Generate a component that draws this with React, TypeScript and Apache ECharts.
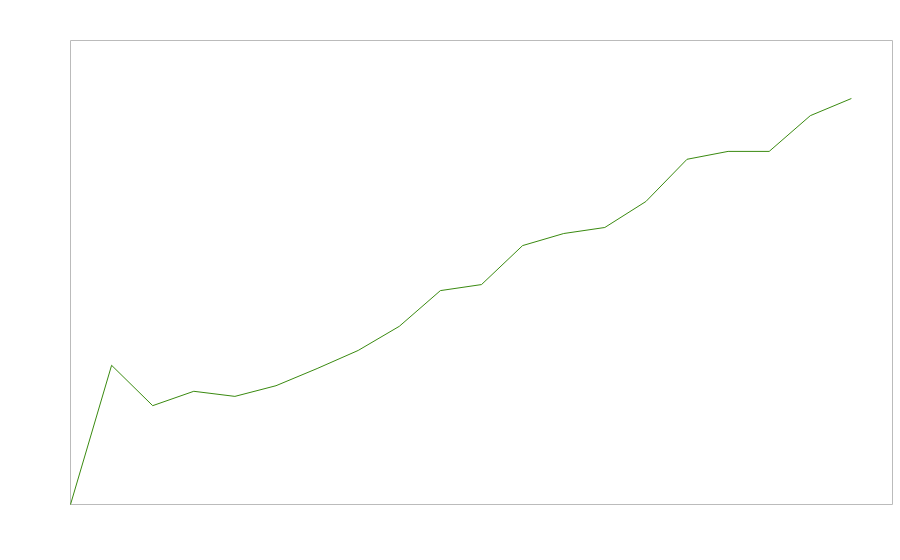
import React, { useEffect, useRef } from "react";
import * as echarts from "echarts";

const xIndex = [0, 1, 2, 3, 4, 5, 6, 7, 8, 9, 10, 11, 12, 13, 14, 15, 16, 17, 18, 19];
const values = [0, 30, 21.3, 24.4, 23.3, 25.6, 29.3, 33.2, 38.4, 46.1, 47.4, 55.8, 58.4, 59.7, 65.3, 74.4, 76.1, 76.1, 83.8, 87.5];
const xMax = 20;
const yMax = 100;

export default function App() {
  const ref = useRef<HTMLDivElement>(null);
  useEffect(() => {
    if (!ref.current) return;
    const chart = echarts.init(ref.current, null, { renderer: "svg" });
    chart.setOption({
      animation: false,
      backgroundColor: "#ffffff",
      grid: {
        left: 70.5,
        right: 7.5,
        top: 40.5,
        bottom: 55.5,
        show: true,
        borderColor: "#bbbbbb",
        borderWidth: 1,
        backgroundColor: "transparent",
      },
      xAxis: {
        type: "value",
        min: 0,
        max: xMax,
        axisLine: { show: false },
        axisTick: { show: false },
        axisLabel: { show: false },
        splitLine: { show: false },
      },
      yAxis: {
        type: "value",
        min: 0,
        max: yMax,
        axisLine: { show: false },
        axisTick: { show: false },
        axisLabel: { show: false },
        splitLine: { show: false },
      },
      series: [
        {
          type: "line",
          data: xIndex.map((x, i) => [x, values[i]]),
          showSymbol: false,
          symbol: "none",
          lineStyle: { color: "#3a8a10", width: 1 },
          itemStyle: { color: "#3a8a10" },
        },
      ],
    });
    return () => chart.dispose();
  }, []);
  return (
    <div
      ref={ref}
      style={{ position: "fixed", left: 0, top: 0, width: 900, height: 560, background: "#fff" }}
    />
  );
}
